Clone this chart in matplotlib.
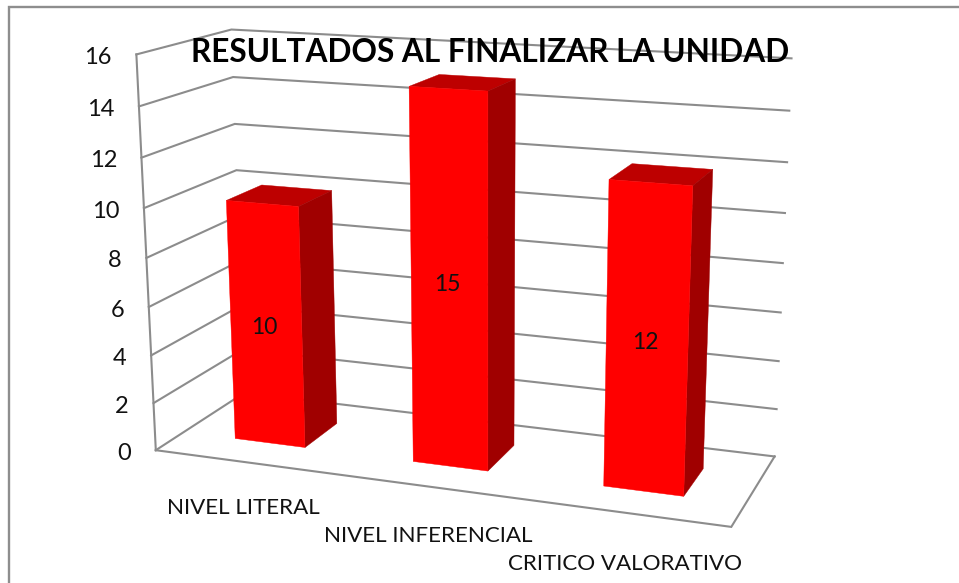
import numpy as np
import matplotlib
matplotlib.use("Agg")
import matplotlib.pyplot as plt
from matplotlib.patches import Polygon

categories = ["NIVEL LITERAL", "NIVEL INFERENCIAL", "CRITICO VALORATIVO"]
values = [10, 15, 12]
y_ticks = [0, 2, 4, 6, 8, 10, 12, 14, 16]
title = "RESULTADOS AL FINALIZAR LA UNIDAD"

W, H = 959, 583
GRID = "#8c8c8c"
FRONT, SIDE, TOP = "#ff0000", "#a00000", "#bd0000"
FONT = "Lato"

# camera calibration: (category axis, value axis, depth) -> figure pixel
world = np.array([(0,0,0),(0,16,0),(0,16,1),(0,0,1),(3,16,1),(3,0,1),(3,0,0),
                  (0,10,0),(0,10,1),(3,10,1)], float)
pix = np.array([(155,450),(138.3,55),(230.7,29.3),(246,393),(791.7,58.3),(774,456.7),
                (731.7,526.7),(142.5,208),(235.7,170),(785,213)], float)
A, b = [], []
for (X, Y, Z), (u, v) in zip(world, pix):
    A.append([X, Y, Z, 1, 0, 0, 0, 0, -u*X, -u*Y, -u*Z]); b.append(u)
    A.append([0, 0, 0, 0, X, Y, Z, 1, -v*X, -v*Y, -v*Z]); b.append(v)
p = np.linalg.lstsq(np.array(A), np.array(b), rcond=None)[0]
P = np.append(p, 1).reshape(3, 4)

def proj(X, Y, Z):
    q = P @ np.array([X, Y, Z, 1.0])
    return q[0]/q[2], q[1]/q[2]

fig = plt.figure(figsize=(W/100, H/100), dpi=100)
ax = fig.add_axes([0, 0, 1, 1])
ax.set_xlim(0, W); ax.set_ylim(H, 0); ax.axis("off")

# chart frame: only the top and left edges fall inside the picture
ax.plot([9, 9, W+5], [H+5, 6.5, 6.5], color="#8e8e8e", lw=1.7, solid_joinstyle="miter")

def line(pts, lw=1.5):
    xy = np.array([proj(*q) for q in pts])
    ax.plot(xy[:, 0], xy[:, 1], color=GRID, lw=lw, solid_joinstyle="miter", zorder=2)

n = len(categories)
for t in y_ticks:
    line([(0, t, 0), (0, t, 1), (n, t, 1)])
    x, y = proj(0, t, 0)
    ax.text(x-24.5, y+3, str(t), ha="right", va="center", fontsize=17, family=FONT, color="#111111", zorder=6)
line([(0, 0, 0), (0, 16, 0)])
line([(0, 0, 0), (n, 0, 0), (n, 0, 1)])

width, z0, z1 = 0.40, 0.30, 0.70
for i, v in enumerate(values):
    x0, x1 = i+0.5-width/2, i+0.5+width/2
    faces = [([(x0,v,z0),(x1,v,z0),(x1,v,z1),(x0,v,z1)], TOP),
             ([(x1,0,z0),(x1,v,z0),(x1,v,z1),(x1,0,z1)], SIDE),
             ([(x0,0,z0),(x1,0,z0),(x1,v,z0),(x0,v,z0)], FRONT)]
    for pts, col in faces:
        ax.add_patch(Polygon([proj(*q) for q in pts], closed=True, fc=col, ec=col, lw=0.3, zorder=3+i*0.1))
    lx, ly = proj(i+0.5, v/2, z0)
    ax.text(lx-1.5, ly+2, str(v), ha="center", va="center", fontsize=16.5, family=FONT, color="#111111", zorder=6)

cat_pos = [(243, 507.5), (428.5, 535.5), (625.5, 563.5)]
for c, (x, y) in zip(categories, cat_pos):
    ax.text(x, y, c, ha="center", va="center", fontsize=16.1, family=FONT, color="#111111", zorder=6)

ax.text(490.5, 53, title, ha="center", va="center", fontsize=22.8, fontweight="bold", family=FONT, color="black", zorder=7)
fig.savefig("out.png", dpi=100)
